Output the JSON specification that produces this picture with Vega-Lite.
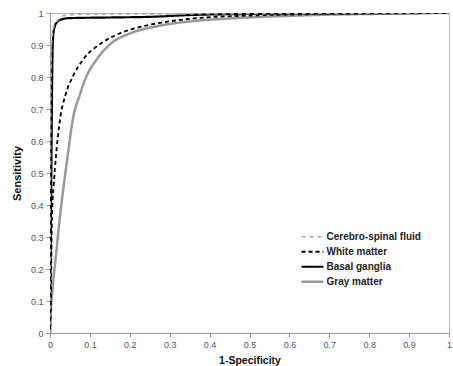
{
  "$schema": "https://vega.github.io/schema/vega-lite/v6.json",
  "width": 399,
  "height": 320,
  "autosize": "none",
  "padding": {"left": 50, "top": 13, "right": 4, "bottom": 33},
  "background": "white",
  "config": {
    "font": "Liberation Sans",
    "view": {"stroke": "#b8b8b8", "strokeWidth": 1}
  },
  "data": {
    "values": [
      {"tissue": "Gray matter", "fpr": 0, "tpr": 0},
      {"tissue": "Gray matter", "fpr": 0.001, "tpr": 0.04},
      {"tissue": "Gray matter", "fpr": 0.007, "tpr": 0.145},
      {"tissue": "Gray matter", "fpr": 0.0155, "tpr": 0.249},
      {"tissue": "Gray matter", "fpr": 0.024, "tpr": 0.353},
      {"tissue": "Gray matter", "fpr": 0.034, "tpr": 0.457},
      {"tissue": "Gray matter", "fpr": 0.045, "tpr": 0.561},
      {"tissue": "Gray matter", "fpr": 0.057, "tpr": 0.666},
      {"tissue": "Gray matter", "fpr": 0.076, "tpr": 0.749},
      {"tissue": "Gray matter", "fpr": 0.091, "tpr": 0.801},
      {"tissue": "Gray matter", "fpr": 0.116, "tpr": 0.853},
      {"tissue": "Gray matter", "fpr": 0.153, "tpr": 0.905},
      {"tissue": "Gray matter", "fpr": 0.2, "tpr": 0.936},
      {"tissue": "Gray matter", "fpr": 0.262, "tpr": 0.957},
      {"tissue": "Gray matter", "fpr": 0.345, "tpr": 0.973},
      {"tissue": "Gray matter", "fpr": 0.45, "tpr": 0.983},
      {"tissue": "Gray matter", "fpr": 0.6, "tpr": 0.991},
      {"tissue": "Gray matter", "fpr": 0.7, "tpr": 0.995},
      {"tissue": "Gray matter", "fpr": 0.8, "tpr": 0.997},
      {"tissue": "Gray matter", "fpr": 0.9, "tpr": 0.999},
      {"tissue": "Gray matter", "fpr": 1, "tpr": 1},
      {"tissue": "Basal ganglia", "fpr": 0, "tpr": 0},
      {"tissue": "Basal ganglia", "fpr": 0.002, "tpr": 0.3},
      {"tissue": "Basal ganglia", "fpr": 0.004, "tpr": 0.6},
      {"tissue": "Basal ganglia", "fpr": 0.006, "tpr": 0.85},
      {"tissue": "Basal ganglia", "fpr": 0.008, "tpr": 0.93},
      {"tissue": "Basal ganglia", "fpr": 0.012, "tpr": 0.958},
      {"tissue": "Basal ganglia", "fpr": 0.018, "tpr": 0.972},
      {"tissue": "Basal ganglia", "fpr": 0.026, "tpr": 0.979},
      {"tissue": "Basal ganglia", "fpr": 0.05, "tpr": 0.984},
      {"tissue": "Basal ganglia", "fpr": 0.15, "tpr": 0.986},
      {"tissue": "Basal ganglia", "fpr": 0.25, "tpr": 0.988},
      {"tissue": "Basal ganglia", "fpr": 0.36, "tpr": 0.994},
      {"tissue": "Basal ganglia", "fpr": 0.5, "tpr": 0.997},
      {"tissue": "Basal ganglia", "fpr": 0.7, "tpr": 0.999},
      {"tissue": "Basal ganglia", "fpr": 1, "tpr": 1},
      {"tissue": "White matter", "fpr": 0, "tpr": 0},
      {"tissue": "White matter", "fpr": 0.002, "tpr": 0.1},
      {"tissue": "White matter", "fpr": 0.003, "tpr": 0.2},
      {"tissue": "White matter", "fpr": 0.004, "tpr": 0.3},
      {"tissue": "White matter", "fpr": 0.006, "tpr": 0.4},
      {"tissue": "White matter", "fpr": 0.009, "tpr": 0.457},
      {"tissue": "White matter", "fpr": 0.0155, "tpr": 0.561},
      {"tissue": "White matter", "fpr": 0.025, "tpr": 0.666},
      {"tissue": "White matter", "fpr": 0.04, "tpr": 0.749},
      {"tissue": "White matter", "fpr": 0.057, "tpr": 0.801},
      {"tissue": "White matter", "fpr": 0.082, "tpr": 0.853},
      {"tissue": "White matter", "fpr": 0.128, "tpr": 0.905},
      {"tissue": "White matter", "fpr": 0.174, "tpr": 0.936},
      {"tissue": "White matter", "fpr": 0.228, "tpr": 0.957},
      {"tissue": "White matter", "fpr": 0.295, "tpr": 0.973},
      {"tissue": "White matter", "fpr": 0.36, "tpr": 0.983},
      {"tissue": "White matter", "fpr": 0.5, "tpr": 0.992},
      {"tissue": "White matter", "fpr": 0.7, "tpr": 0.997},
      {"tissue": "White matter", "fpr": 1, "tpr": 1},
      {"tissue": "Cerebro-spinal fluid", "fpr": 0, "tpr": 0},
      {"tissue": "Cerebro-spinal fluid", "fpr": 0.001, "tpr": 0.4},
      {"tissue": "Cerebro-spinal fluid", "fpr": 0.002, "tpr": 0.7},
      {"tissue": "Cerebro-spinal fluid", "fpr": 0.004, "tpr": 0.9},
      {"tissue": "Cerebro-spinal fluid", "fpr": 0.008, "tpr": 0.95},
      {"tissue": "Cerebro-spinal fluid", "fpr": 0.015, "tpr": 0.97},
      {"tissue": "Cerebro-spinal fluid", "fpr": 0.036, "tpr": 0.992},
      {"tissue": "Cerebro-spinal fluid", "fpr": 0.07, "tpr": 0.996},
      {"tissue": "Cerebro-spinal fluid", "fpr": 0.3, "tpr": 0.997},
      {"tissue": "Cerebro-spinal fluid", "fpr": 1, "tpr": 1}
    ]
  },
  "mark": {"type": "line", "interpolate": "monotone", "clip": true},
  "encoding": {
    "x": {
      "field": "fpr", "type": "quantitative",
      "scale": {"domain": [0, 1], "nice": false},
      "axis": {
        "title": "1-Specificity", "titleFontSize": 10.5, "titleFontWeight": "bold", "titleColor": "#111", "titlePadding": 6,
        "values": [0, 0.1, 0.2, 0.3, 0.4, 0.5, 0.6, 0.7, 0.8, 0.9, 1], "format": "~g",
        "labelFontSize": 9, "labelColor": "#555", "labelPadding": 3, "labelFlush": false,
        "tickSize": 4, "tickColor": "#999", "domainColor": "#999", "grid": false
      }
    },
    "y": {
      "field": "tpr", "type": "quantitative",
      "scale": {"domain": [0, 1], "nice": false},
      "axis": {
        "title": "Sensitivity", "titleFontSize": 11, "titleFontWeight": "bold", "titleColor": "#111", "titlePadding": 8,
        "values": [0, 0.1, 0.2, 0.3, 0.4, 0.5, 0.6, 0.7, 0.8, 0.9, 1], "format": "~g",
        "labelFontSize": 9, "labelColor": "#555", "labelPadding": 3, "labelFlush": false,
        "tickSize": 4, "tickColor": "#999", "domainColor": "#999", "grid": false
      }
    },
    "color": {
      "field": "tissue", "type": "nominal",
      "scale": {
        "domain": ["Cerebro-spinal fluid", "White matter", "Basal ganglia", "Gray matter"],
        "range": ["#aaaaaa", "#000000", "#000000", "#999999"]
      },
      "legend": {
        "title": null, "orient": "none", "legendX": 250, "legendY": 216.5, "padding": 0,
        "symbolType": "stroke", "symbolSize": 480, "symbolStrokeWidth": 2.5,
        "labelFontSize": 10, "labelFontWeight": "bold", "labelColor": "#222", "labelOffset": 1.5,
        "rowPadding": 0, "clipHeight": 14.5
      }
    },
    "strokeDash": {
      "field": "tissue", "type": "nominal",
      "scale": {
        "domain": ["Cerebro-spinal fluid", "White matter", "Basal ganglia", "Gray matter"],
        "range": [[4, 4], [4, 3], [1, 0], [1, 0]]
      },
      "legend": {
        "title": null, "orient": "none", "legendX": 250, "legendY": 216.5, "padding": 0,
        "symbolType": "stroke", "symbolSize": 480, "symbolStrokeWidth": 2.5,
        "labelFontSize": 10, "labelFontWeight": "bold", "labelColor": "#222", "labelOffset": 1.5,
        "rowPadding": 0, "clipHeight": 14.5
      }
    },
    "strokeWidth": {
      "field": "tissue", "type": "nominal",
      "scale": {
        "domain": ["Cerebro-spinal fluid", "White matter", "Basal ganglia", "Gray matter"],
        "range": [1.5, 2.5, 2, 1.8]
      },
      "legend": null
    }
  }
}
